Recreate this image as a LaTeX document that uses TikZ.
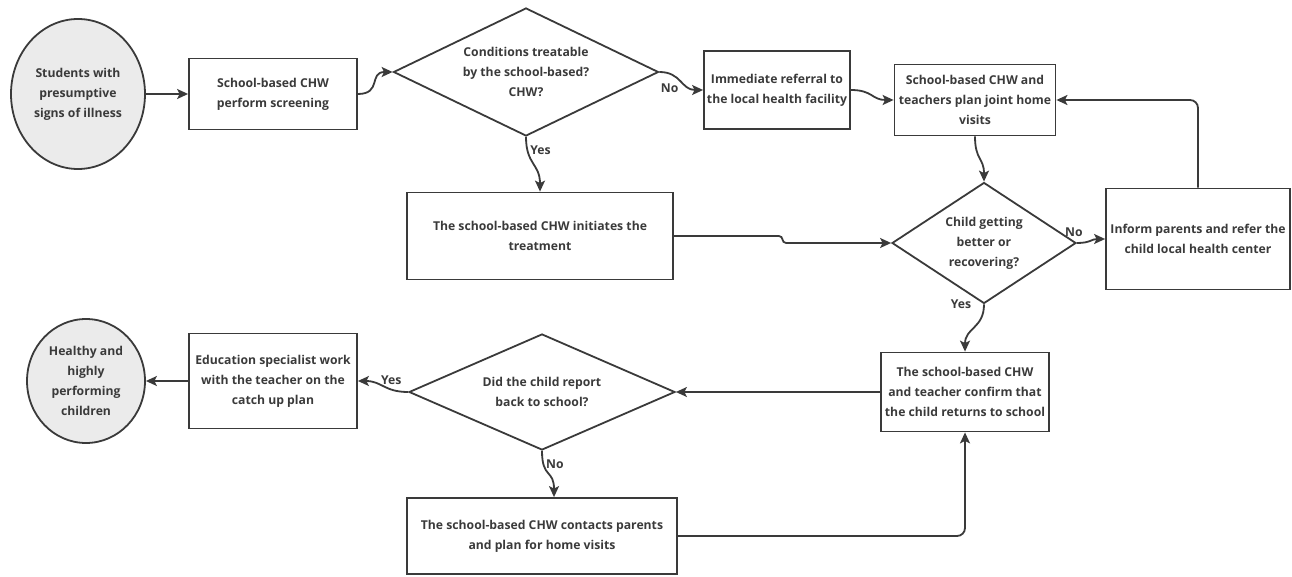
\documentclass[tikz,border=0pt]{standalone}
\usepackage{fontspec}
\setmainfont{Open Sans}
\usetikzlibrary{shapes.geometric, positioning, arrows.meta, calc}
\definecolor{linegray}{HTML}{3A3A3A}
\definecolor{textgray}{HTML}{3A3A3A}
\definecolor{termfill}{HTML}{EBEBEB}

\begin{document}
\begin{tikzpicture}[
	x=1pt, y=-1pt,
	on grid,
	nodes = {
		align = center,
		text = textgray,
		font = \bfseries\fontsize{12.2}{20}\selectfont
	},
	lines/.style={
		line width=1.8pt,
		draw=linegray,
		-{Stealth[length=11pt, width=10pt, inset=2.5pt]}
	},
	term/.style={
		ellipse,
		draw=linegray,
		line width=1.8pt,
		fill=termfill,
		inner sep=0pt
	},
	proc/.style={
		rectangle,
		draw=linegray,
		line width=1.8pt,
		inner sep=2pt
	},
	decision/.style={
		diamond,
		draw=linegray,
		line width=1.8pt,
		inner sep=0pt
	},
	answer/.style={
		font=\bfseries\fontsize{12.2}{14}\selectfont,
		inner sep=2pt
	}
]
	\useasboundingbox (0,0) rectangle (1292,577);

	\node[term, minimum width=134pt, minimum height=150pt] (students) at (78,94) {
		Students with\\
		presumptive\\
		signs of illness
	};

	\node[proc, minimum width=168pt, minimum height=71pt] (screening) [right=195pt of students] {
		School-based CHW\\
		perform screening
	};

	\node[decision, shape aspect=2, minimum width=265pt, minimum height=128pt] (treatable) [above right=22pt and 253pt of screening] {
		Conditions treatable\\
		by the school-based?\\
		CHW?
	};

	\node[proc, minimum width=146pt, minimum height=78pt] (referral) [below right=18pt and 251pt of treatable] {
		Immediate referral to\\
		the local health facility
	};

	\node[proc, minimum width=161pt, minimum height=71pt] (plan) [below right=10pt and 198pt of referral] {
		School-based CHW and\\
		teachers plan joint home\\
		visits
	};

	\node[decision, shape aspect=1.5, minimum width=184pt, minimum height=121pt] (better) [below right=143pt and 9pt of plan] {
		Child getting\\
		better or\\
		recovering?
	};

	\node[proc, minimum width=184pt, minimum height=101pt] (inform) [above right=4pt and 214pt of better] {
		Inform parents and refer the\\
		child local health center
	};

	\node[proc, minimum width=266pt, minimum height=87pt] (treatment) [below right=164pt and 14pt of treatable] {
		The school-based CHW initiates the\\
		treatment
	};
	%%
	\node[proc, minimum width=168pt, minimum height=79pt] (confirm) [below left=149pt and 19pt of better] {
		The school-based CHW\\
		and teacher confirm that\\
		the child returns to school
	};

	\node[decision, shape aspect=2.2, minimum width=266pt, minimum height=116pt] (reported) [left=423pt of confirm] {
		Did the child report\\
		back to school?
	};

	\node[proc, minimum width=270pt, minimum height=76pt] (home) [below=144pt of reported] {
		The school-based CHW contacts parents\\
		and plan for home visits
	};

	\node[proc, minimum width=168pt, minimum height=95pt] (catchup) [above left=11pt and 269pt of reported] {
		Education specialist work\\
		with the teacher on the\\
		catch up plan
	};

	\node[term, minimum width=118pt, minimum height=124pt] (healthy) [left=187pt of catchup] {
		Healthy and\\
		highly\\
		performing\\
		children
	};

	\draw[lines] (students) -- (screening);
	\draw[lines] (screening.east) .. controls +(24,0) and +(-24,0) .. (treatable.west);
	\draw[lines] (treatable.east) .. controls +(22,0) and +(-22,0) .. node[answer, pos=0.5, anchor=north east] {No} (referral.west);
	\draw[lines] (referral.east) .. controls +(22,0) and +(-22,0) .. (plan.west);
	\draw[lines] (plan.south) .. controls +(0,24) and +(0,-24) .. (better.north);

	\draw[lines] (treatable.south) .. controls +(0,28) and +(0,-28) .. node[answer, pos=0.2, anchor=west] {Yes} (treatment.north);
	\draw[lines] (treatment.east) -- ++(105,0) .. controls +(5,0) and +(-5,0) .. ($(better.west)+(-105,0)$) -- (better.west);

	\draw[lines] (better.east) .. controls +(14,0) and +(-14,0) .. node[answer, pos=0, above=3pt, xshift=-3pt] {No} (inform.west);
	\draw[lines, rounded corners=8pt] (inform.north) |- (plan.east);
	\draw[lines] (better.south) .. controls +(0,24) and +(0,-24) .. node[answer, pos=0, left=10pt] {Yes} (confirm.north);

	\draw[lines] (confirm.west) -- (reported.east);
	\draw[lines] (reported.west) .. controls +(-24,0) and +(24,0) .. node[answer, pos=0.3, above=2pt] {Yes} (catchup.east);
	\draw[lines] (reported.south) .. controls +(0,28) and +(0,-28) .. node[answer, pos=0.2, anchor=west] {No} ([xshift=12pt]home.north);
	\draw[lines, rounded corners=8pt] (home.east) -| (confirm.south);
	\draw[lines] (catchup.west) -- (healthy.east);
\end{tikzpicture}
\end{document}
